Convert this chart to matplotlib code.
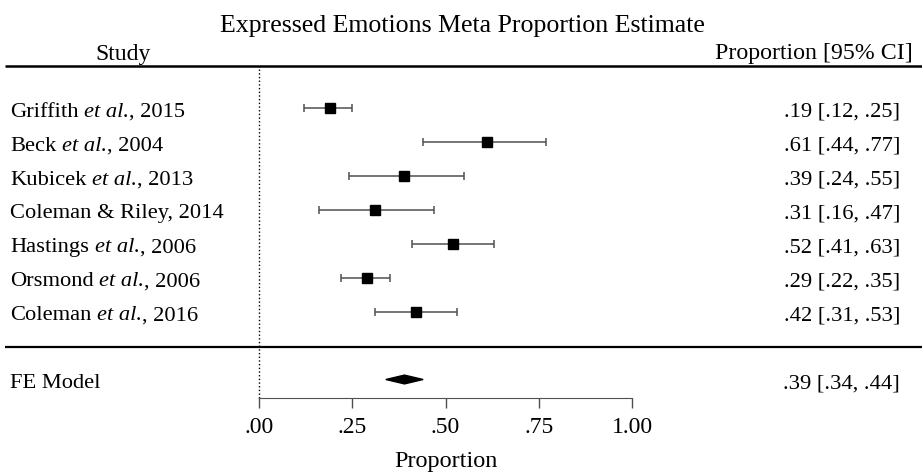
import matplotlib
matplotlib.use("Agg")
import matplotlib.pyplot as plt
from matplotlib.transforms import offset_copy
import numpy as np

plt.rcParams['font.family'] = ['Liberation Serif', 'DejaVu Serif']

# data
study_names = ["Griffith", "Beck", "Kubicek", "Coleman & Riley", "Hastings", "Orsmond", "Coleman"]
study_etal = [True, True, True, False, True, True, True]
study_years = ["2015", "2004", "2013", "2014", "2006", "2006", "2016"]
est = [0.19, 0.61, 0.39, 0.31, 0.52, 0.29, 0.42]
ci_lo = [0.12, 0.44, 0.24, 0.16, 0.41, 0.22, 0.31]
ci_hi = [0.25, 0.77, 0.55, 0.47, 0.63, 0.35, 0.53]
fe_est, fe_lo, fe_hi = 0.39, 0.34, 0.44
xticks = [0, 0.25, 0.5, 0.75, 1.0]
xticklabels = [".00", ".25", ".50", ".75", "1.00"]


def fmt(v):
    return f"{v:.2f}".lstrip("0")


FS = 16.2
W, H = 922, 472
X0, XS = 259, 373          # pixel of x=0, pixels per unit
Y1, YS = 311.7, 33.9       # pixel of row 1, pixels per row


def px(x):
    return (x - X0) / XS


def py(y):
    return 1 + (Y1 - y) / YS


fig = plt.figure(figsize=(W / 100, H / 100), dpi=100)
ax = fig.add_axes([0, 0, 1, 1])
ax.set_xlim(px(0), px(W))
ax.set_ylim(py(H), py(0))
renderer = fig.canvas.get_renderer()


def text_width(s, **kw):
    t = ax.text(0, 0, s, fontsize=FS, **kw)
    w = t.get_window_extent(renderer).width
    t.remove()
    return w


SPACE = text_width("x x") - text_width("xx")


def segmented(x, y, parts):
    # draw a row of text pieces (text, style, space_after) one after another
    dx = 0
    for s, style, gap in parts:
        tr = offset_copy(ax.transData, fig=fig, x=dx, y=0, units="dots")
        t = ax.text(x, y, s, transform=tr, ha="left", va="baseline", fontsize=FS, fontstyle=style)
        dx += t.get_window_extent(renderer).width + (SPACE if gap else 0)


k = len(study_names)
rows = np.arange(k, 0, -1)
base = 8.5 / YS            # baseline offset below row centre

# study estimates
ax.errorbar(est, rows, xerr=[np.subtract(est, ci_lo), np.subtract(ci_hi, est)],
            fmt="s", color="black", ecolor="#505050", elinewidth=1.1,
            capsize=3.2, capthick=1.1, markersize=6.5)

# FE diamond
h = 0.13
ax.fill([fe_lo, fe_est, fe_hi, fe_est], [-1, -1 + h, -1, -1 - h], color="black")

# lines
ax.vlines(0, py(398), py(66), colors="black", linestyles=":", linewidth=1)
ax.hlines(py(66), px(5), px(W), colors="black", linewidth=1.8)
ax.hlines(py(347), px(5), px(W), colors="black", linewidth=1.6)

# text
for r, name, etal, yr, e, lo, hi in zip(rows, study_names, study_etal, study_years, est, ci_lo, ci_hi):
    if etal:
        segmented(px(10), r - base, [(name, "normal", True), ("et al.", "italic", False),
                                     (", " + yr, "normal", False)])
    else:
        ax.text(px(10), r - base, f"{name}, {yr}", ha="left", va="baseline", fontsize=FS)
    ax.text(px(900), r - base, f"{fmt(e)} [{fmt(lo)}, {fmt(hi)}]", ha="right", va="baseline", fontsize=FS)
ax.text(px(10), -1 - base, "FE Model", ha="left", va="baseline", fontsize=FS)
ax.text(px(900), -1 - base, f"{fmt(fe_est)} [{fmt(fe_lo)}, {fmt(fe_hi)}]", ha="right",
        va="baseline", fontsize=FS)

ax.text(px(123), py(60), "Study", ha="center", va="baseline", fontsize=17)
ax.text(px(913), py(59), "Proportion [95% CI]", ha="right", va="baseline", fontsize=17.2)
ax.text(px(462), py(32), "Expressed Emotions Meta Proportion Estimate", ha="center",
        va="baseline", fontsize=18.6)

# x axis
for sp in ["top", "right", "left"]:
    ax.spines[sp].set_visible(False)
ax.spines["bottom"].set_position(("data", py(398)))
ax.spines["bottom"].set_bounds(0, 1)
ax.spines["bottom"].set_color("#505050")
ax.set_yticks([])
ax.set_xticks(xticks)
ax.set_xticklabels(xticklabels, fontsize=17)
ax.tick_params(axis="x", length=7, width=1, color="#505050", pad=7)
ax.text(0.5, py(467), "Proportion", ha="center", va="baseline", fontsize=17.5)

fig.savefig("out.png", dpi=100)
